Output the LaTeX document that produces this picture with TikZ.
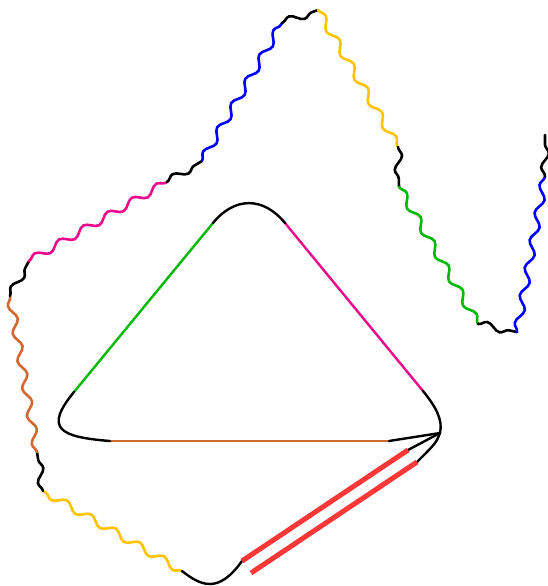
\documentclass[tikz,border=0pt]{standalone}
\usetikzlibrary{decorations.pathmorphing}
\definecolor{tgreen}{RGB}{0,185,0}
\definecolor{tpink}{RGB}{236,10,140}
\definecolor{tbrown}{RGB}{210,105,50}
\definecolor{tyellow}{RGB}{255,195,0}
\definecolor{tblue}{RGB}{0,0,255}
\definecolor{tred}{RGB}{255,55,55}

\begin{document}
\begin{tikzpicture}[x=1pt,y=-1pt,line cap=round,
  wave/.style={line width=2.6pt,decorate,decoration={snake,segment length=28pt,amplitude=3.8pt}},
  side/.style={line width=2.4pt},
  bar/.style={line width=5pt,tred,line cap=butt}]
\useasboundingbox (0,0) rectangle (548,586);
% wavy path
\coordinate (w1) at (182,571);
\coordinate (w2) at (43,491);
\coordinate (w3) at (37,452);
\coordinate (w4) at (10,296);
\coordinate (w5) at (29,261);
\coordinate (w6) at (167,182);
\coordinate (w7) at (202,161);
\coordinate (w8) at (282,23);
\coordinate (w9) at (318,10);
\coordinate (w10) at (398,147);
\coordinate (w11) at (399,187);
\coordinate (w12) at (478,324);
\coordinate (w13) at (517,332);
\coordinate (w14) at (545,176);
\coordinate (w15) at (545,135);
\foreach \a/\b/\c in {w1/w2/tyellow,w2/w3/black,w3/w4/tbrown,w4/w5/black,
  w5/w6/tpink,w6/w7/black,w7/w8/tblue,w8/w9/black,w9/w10/tyellow,
  w10/w11/black,w11/w12/tgreen,w12/w13/black,w13/w14/tblue,w14/w15/black}
  \draw[wave,\c] (\a) -- (\b);
% triangle
\coordinate (g1) at (74,392);
\coordinate (g2) at (213,223);
\coordinate (m1) at (285,223);
\coordinate (m2) at (423,391);
\coordinate (o1) at (110,441);
\coordinate (o2) at (389,441);
\coordinate (rc) at (440,433);
\coordinate (r1a) at (408,450);
\coordinate (r1b) at (242,561);
\coordinate (r2a) at (417,462);
\coordinate (r2b) at (251,573);
\draw[side,tgreen] (g1) -- (g2);
\draw[side,tpink] (m1) -- (m2);
\draw[line width=1.8pt,tbrown] (o1) -- (o2);
\draw[side] (g2) .. controls (234.6,196.5) and (263.4,196.5) .. (m1);
\draw[side] (g1) .. controls (43.5,429) and (60,437) .. (o1);
\draw[side] (m2) .. controls (436,407) and (443,420) .. (rc);
\draw[side] (rc) -- (o2);
\draw[side] (rc) -- (r1a);
\draw[side] (rc) .. controls (436,443) .. (r2a);
\draw[side] (w1) .. controls (200,585) and (218,595) .. (r1b);
\draw[bar] (r1a) -- (r1b);
\draw[bar] (r2a) -- (r2b);
\end{tikzpicture}
\end{document}
